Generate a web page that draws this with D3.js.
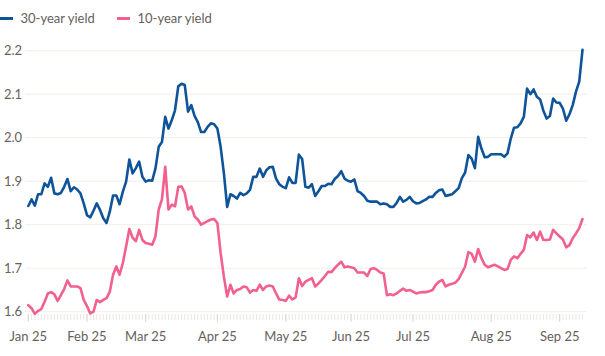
<!DOCTYPE html>
<html>
<head>
<meta charset="utf-8">
<script src="https://cdn.jsdelivr.net/npm/d3@7"></script>
<style>
  html, body { margin: 0; padding: 0; background: #ffffff; }
  svg { display: block; font-family: Lato, "Noto Sans", sans-serif; }
</style>
</head>
<body>
<svg id="chart" width="605" height="356"></svg>
<script>
// ---- Data (trading-day index 0..170, Jan 2 2025 onwards) ----
const seriesNames = ["30-year yield", "10-year yield"];
const seriesColors = ["#0f5499", "#f2608f"];

const yield30 = [
  1.843,1.858,1.844,1.870,1.870,1.895,1.887,1.908,1.872,1.870,
  1.873,1.887,1.905,1.877,1.886,1.881,1.872,1.849,1.822,1.817,
  1.832,1.849,1.834,1.815,1.804,1.830,1.867,1.867,1.847,1.876,
  1.899,1.950,1.918,1.930,1.945,1.910,1.899,1.902,1.901,1.929,
  1.979,1.990,2.048,2.021,2.040,2.063,2.118,2.124,2.121,2.060,
  2.075,2.050,2.036,2.013,2.013,2.025,2.033,2.031,2.021,1.979,
  1.918,1.841,1.870,1.866,1.860,1.873,1.868,1.872,1.880,1.910,
  1.910,1.929,1.910,1.925,1.932,1.933,1.906,1.893,1.887,1.884,
  1.909,1.896,1.896,1.961,1.951,1.887,1.885,1.893,1.866,1.877,
  1.889,1.889,1.894,1.893,1.905,1.912,1.923,1.906,1.901,1.899,
  1.904,1.877,1.873,1.866,1.855,1.853,1.853,1.853,1.847,1.849,
  1.847,1.841,1.841,1.850,1.864,1.853,1.857,1.864,1.854,1.849,
  1.850,1.854,1.858,1.864,1.864,1.873,1.879,1.881,1.866,1.868,
  1.870,1.877,1.884,1.907,1.920,1.960,1.952,1.930,2.002,1.975,
  1.955,1.956,1.962,1.962,1.962,1.962,1.956,1.964,1.998,2.023,
  2.024,2.033,2.048,2.113,2.100,2.111,2.094,2.088,2.062,2.044,
  2.050,2.090,2.081,2.080,2.067,2.039,2.054,2.075,2.106,2.129,
  2.202
];

const yield10 = [
  1.615,1.608,1.595,1.602,1.606,1.623,1.642,1.645,1.640,1.625,
  1.638,1.652,1.672,1.658,1.658,1.658,1.654,1.627,1.613,1.596,
  1.600,1.627,1.622,1.627,1.631,1.646,1.685,1.704,1.685,1.712,
  1.750,1.790,1.770,1.762,1.788,1.765,1.758,1.756,1.754,1.773,
  1.835,1.858,1.933,1.835,1.846,1.842,1.887,1.888,1.873,1.835,
  1.842,1.819,1.812,1.800,1.804,1.808,1.812,1.813,1.804,1.735,
  1.680,1.635,1.662,1.642,1.650,1.652,1.658,1.656,1.644,1.650,
  1.648,1.662,1.650,1.658,1.660,1.658,1.642,1.628,1.627,1.625,
  1.637,1.628,1.633,1.677,1.659,1.669,1.673,1.677,1.658,1.665,
  1.673,1.682,1.692,1.691,1.700,1.708,1.715,1.702,1.704,1.702,
  1.700,1.690,1.690,1.690,1.682,1.698,1.700,1.696,1.690,1.688,
  1.638,1.640,1.638,1.642,1.648,1.653,1.648,1.650,1.646,1.642,
  1.644,1.645,1.645,1.647,1.650,1.662,1.669,1.673,1.658,1.662,
  1.664,1.667,1.675,1.689,1.704,1.737,1.733,1.715,1.744,1.723,
  1.708,1.702,1.705,1.708,1.704,1.700,1.696,1.698,1.719,1.727,
  1.723,1.733,1.742,1.776,1.771,1.782,1.765,1.784,1.765,1.765,
  1.766,1.788,1.780,1.773,1.766,1.748,1.753,1.769,1.780,1.792,
  1.813
];

const monthLabels = ["Jan 25","Feb 25","Mar 25","Apr 25","May 25","Jun 25","Jul 25","Aug 25","Sep 25"];
const monthStartIndex = [0, 18, 36, 58, 79, 99, 118, 142, 163];
const yTicks = [1.6, 1.7, 1.8, 1.9, 2.0, 2.1, 2.2];

// ---- Drawing ----
const svg = d3.select("#chart");
const textColor = "#66605c";

const x = d3.scaleLinear().domain([0, yield30.length - 1]).range([28.3, 582.5]);
const y = d3.scaleLinear().domain([1.6, 2.2]).range([311.7, 50.7]);

// gridlines
svg.append("g").selectAll("line").data(yTicks).join("line")
  .attr("x1", 25).attr("x2", 587)
  .attr("y1", d => y(d)).attr("y2", d => y(d))
  .attr("stroke", "#f1eeea").attr("stroke-width", 1);

// y labels
svg.append("g").selectAll("text").data(yTicks).join("text")
  .attr("x", 4).attr("y", d => y(d))
  .attr("dy", "0.35em")
  .attr("font-size", 13).attr("fill", textColor)
  .text(d => d.toFixed(1));

// daily minor ticks
const idx = d3.range(yield30.length);
svg.append("g").selectAll("line").data(idx).join("line")
  .attr("x1", d => x(d)).attr("x2", d => x(d))
  .attr("y1", 314).attr("y2", 320)
  .attr("stroke", "#ece8e3").attr("stroke-width", 1);

// month ticks
svg.append("g").selectAll("line").data(monthStartIndex).join("line")
  .attr("x1", d => x(d)).attr("x2", d => x(d))
  .attr("y1", 314).attr("y2", 322)
  .attr("stroke", "#ddd6cf").attr("stroke-width", 1);

// month labels
svg.append("g").selectAll("text").data(monthLabels).join("text")
  .attr("x", (d, i) => x(monthStartIndex[i]))
  .attr("y", 341)
  .attr("text-anchor", "middle")
  .attr("font-size", 13).attr("fill", textColor)
  .text(d => d);

// lines
const line = d3.line().x((d, i) => x(i)).y(d => y(d)).curve(d3.curveLinear);
[yield10, yield30].forEach((s, k) => {
  svg.append("path").datum(s)
    .attr("d", line)
    .attr("fill", "none")
    .attr("stroke", k === 0 ? seriesColors[1] : seriesColors[0])
    .attr("stroke-width", 2.6)
    .attr("stroke-linejoin", "round")
    .attr("stroke-linecap", "round");
});

// legend
const legendX = [0, 117];
const lg = svg.append("g");
seriesNames.forEach((name, i) => {
  lg.append("line")
    .attr("x1", legendX[i]).attr("x2", legendX[i] + 13)
    .attr("y1", 18.5).attr("y2", 18.5)
    .attr("stroke", seriesColors[i]).attr("stroke-width", 3);
  lg.append("text")
    .attr("x", legendX[i] + 20.5).attr("y", 18.5)
    .attr("dy", "0.35em")
    .attr("font-size", 13).attr("fill", textColor)
    .text(name);
});
</script>
</body>
</html>
